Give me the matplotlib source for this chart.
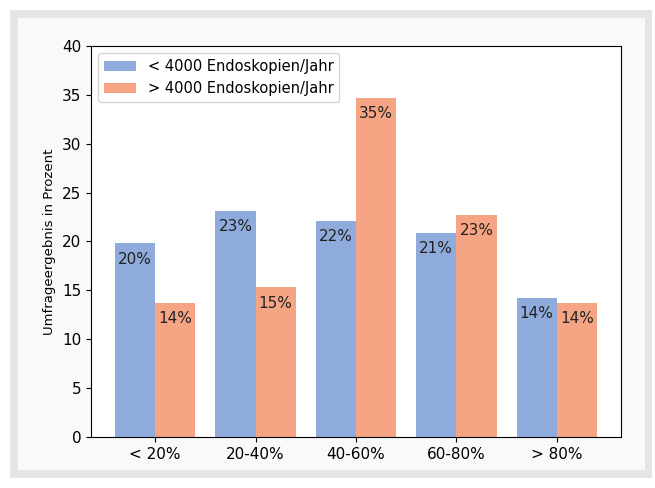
import numpy as np
import matplotlib.pyplot as plt
from matplotlib.patches import Rectangle

# survey results
categories = ['< 20%', '20-40%', '40-60%', '60-80%', '> 80%']
small = [19.8, 23.1, 22.1, 20.9, 14.2]   # < 4000 Endoskopien/Jahr
large = [13.7, 15.3, 34.7, 22.7, 13.7]   # > 4000 Endoskopien/Jahr
small_lbl = ['20%', '23%', '22%', '21%', '14%']
large_lbl = ['14%', '15%', '35%', '23%', '14%']

W, H = 655, 488
fig = plt.figure(figsize=(W/100, H/100), dpi=100, facecolor='white')
# grey frame around the figure
fig.patches.append(Rectangle((10/W, 10/H), 642/W, 468/H, transform=fig.transFigure,
                             facecolor='#e4e5e7', edgecolor='none', zorder=-2))
fig.patches.append(Rectangle((18/W, 18/H), 627/W, 452/H, transform=fig.transFigure,
                             facecolor='#f8f9fb', edgecolor='none', zorder=-1))

ax = fig.add_axes([91/W, 51/H, 530/W, 391/H])
x = np.arange(len(categories))
w = 0.4
b1 = ax.bar(x - w/2, small, w, color='#8eabdb', label='< 4000 Endoskopien/Jahr')
b2 = ax.bar(x + w/2, large, w, color='#f5a584', label='> 4000 Endoskopien/Jahr')

for xi, v, t in zip(x - w/2, small, small_lbl):
    ax.text(xi, v - 1.6, t, ha='center', va='center', fontsize=11, color='#222222')
for xi, v, t in zip(x + w/2, large, large_lbl):
    ax.text(xi, v - 1.6, t, ha='center', va='center', fontsize=11, color='#222222')

ax.set_ylim(0, 40)
ax.set_yticks(range(0, 41, 5))
ax.set_xticks(x)
ax.set_xticklabels(categories)
ax.tick_params(labelsize=11)
ax.set_ylabel('Umfrageergebnis in Prozent', fontsize=9.5)
ax.legend(loc='upper left', fontsize=10.5, handlelength=2.2)

plt.savefig('out.png', dpi=100)
